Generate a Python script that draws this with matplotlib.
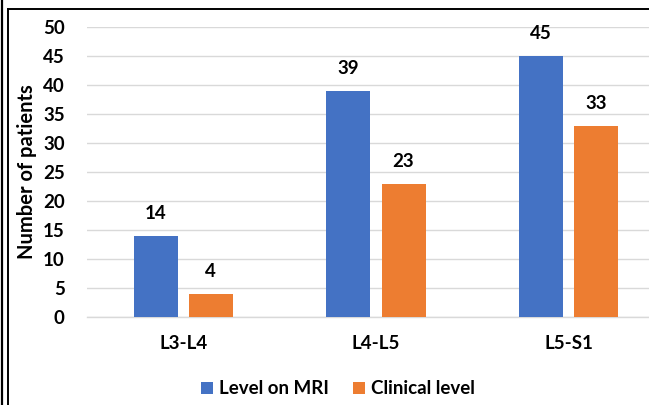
import matplotlib.pyplot as plt
from matplotlib.lines import Line2D
import numpy as np

categories = ["L3-L4", "L4-L5", "L5-S1"]
mri_level = [14, 39, 45]
clinical_level = [4, 23, 33]
series_names = ["Level on MRI", "Clinical level"]
y_ticks = [0, 5, 10, 15, 20, 25, 30, 35, 40, 45, 50]

BLUE = "#4472C4"
ORANGE = "#ED7D31"
FONT = "Lato"
FS = 13.5

W, H = 649, 405
fig = plt.figure(figsize=(W / 100, H / 100), dpi=100)
fig.patch.set_facecolor("white")

# axes box in pixel terms: left 87, right 665 (runs off the canvas), bottom 317, top 27
ax = fig.add_axes([87 / W, (H - 317) / H, (665 - 87) / W, (317 - 27) / H])
x = np.arange(len(categories))
bw = 0.228
off = 0.143

b1 = ax.bar(x - off, mri_level, bw, color=BLUE, zorder=3, label=series_names[0])
b2 = ax.bar(x + off, clinical_level, bw, color=ORANGE, zorder=3, label=series_names[1])

for bars, vals in ((b1, mri_level), (b2, clinical_level)):
    for rect, v in zip(bars, vals):
        ax.annotate(f"{v}", (rect.get_x() + rect.get_width() / 2, v),
                    xytext=(0, 10), textcoords="offset points",
                    ha="center", va="bottom", fontsize=FS, fontweight="bold",
                    family=FONT, color="#000000")

ax.set_xlim(-0.5, 2.5)
ax.set_ylim(0, 50)
ax.set_yticks(y_ticks)
ax.set_xticks(x)
ax.set_xticklabels(categories)
ax.grid(axis="y", color="#D9D9D9", linewidth=1.0, zorder=0)
ax.set_axisbelow(True)
for s in ("top", "right", "left"):
    ax.spines[s].set_visible(False)
ax.spines["bottom"].set_color("#D9D9D9")
ax.spines["bottom"].set_linewidth(1.0)
ax.tick_params(axis="both", length=0)
ax.tick_params(axis="y", pad=16)
ax.tick_params(axis="x", pad=13)
for lab in ax.get_yticklabels() + ax.get_xticklabels():
    lab.set_fontweight("bold")
    lab.set_fontsize(FS)
    lab.set_family(FONT)

fig.text(27 / W, 1 - 172 / H, "Number of patients", rotation=90, ha="center",
         va="center", fontsize=14.5, fontweight="bold", family=FONT)

leg = fig.legend(handles=[b1, b2], loc="center", bbox_to_anchor=(338 / W, 1 - 389 / H),
                 ncol=2, frameon=False, handlelength=0.65, handleheight=0.65,
                 handletextpad=0.3, columnspacing=1.3,
                 prop={"family": FONT, "weight": "bold", "size": FS})

# frame lines along the left and top edges
fig.add_artist(Line2D([2 / W, 2 / W], [0, 1], color="black", linewidth=1.6))
fig.add_artist(Line2D([7.5 / W, 7.5 / W], [0, 1 - 9 / H], color="black", linewidth=1.4))
fig.add_artist(Line2D([7.5 / W, 1], [1 - 9 / H, 1 - 9 / H], color="black", linewidth=1.4))

fig.savefig("out.png", dpi=100)
